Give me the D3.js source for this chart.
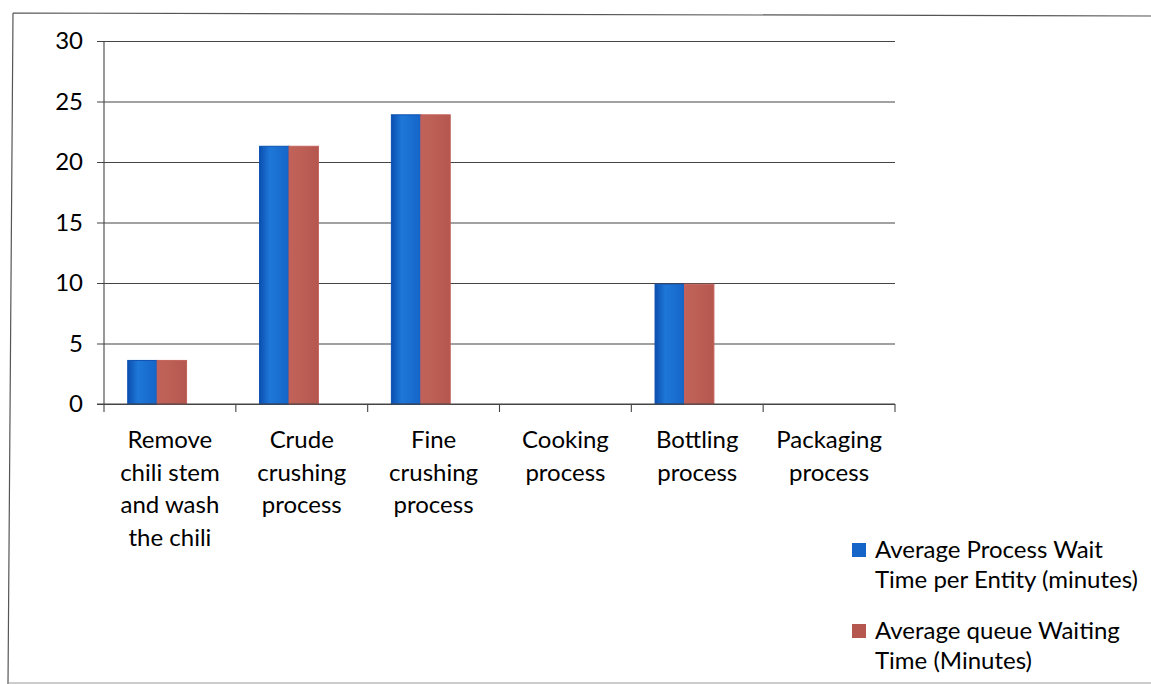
<!DOCTYPE html>
<html>
<head>
<meta charset="utf-8">
<script src="https://cdn.jsdelivr.net/npm/d3@7"></script>
<style>
  html, body { margin: 0; padding: 0; background: #fff; }
  svg { display: block; font-family: Lato, "Open Sans", sans-serif; }
</style>
</head>
<body>
<svg id="chart" width="1151" height="684"></svg>
<script>
// Process stages (line breaks as they wrap under the axis)
const categories = [
  "Remove\nchili stem\nand wash\nthe chili",
  "Crude\ncrushing\nprocess",
  "Fine\ncrushing\nprocess",
  "Cooking\nprocess",
  "Bottling\nprocess",
  "Packaging\nprocess"
];
const seriesNames = [
  "Average Process Wait\nTime per Entity (minutes)",
  "Average queue Waiting\nTime (Minutes)"
];
const processWait = [3.6, 21.3, 23.9, 0, 9.9, 0];
const queueWait   = [3.6, 21.3, 23.9, 0, 9.9, 0];
const yTicks = [0, 5, 10, 15, 20, 25, 30];

const seriesValues = [processWait, queueWait];
const seriesColors = ["#1565c8", "#b5574f"];
const seriesLight  = ["#1e78d8", "#bd6056"];
const seriesEdges  = ["#0b4fb0", "#c2625a"];

const FONT = 24;
const svg = d3.select("#chart");

// Shaded bar fills, darker at the sides
const defs = svg.append("defs");
seriesColors.forEach((c, s) => {
  const g = defs.append("linearGradient").attr("id", "barFill" + s)
    .attr("x1", 0).attr("x2", 1).attr("y1", 0).attr("y2", 0);
  g.append("stop").attr("offset", "0%").attr("stop-color", seriesEdges[s]);
  g.append("stop").attr("offset", "35%").attr("stop-color", seriesLight[s]);
  g.append("stop").attr("offset", "100%").attr("stop-color", c);
});

// Outer frame
svg.append("path")
  .attr("d", "M13,13 L1151,16 M13,13 L8,684")
  .attr("fill", "none").attr("stroke", "#555").attr("stroke-width", 1.2);
svg.append("line")
  .attr("x1", 8).attr("x2", 1151).attr("y1", 683).attr("y2", 683)
  .attr("stroke", "#999").attr("stroke-width", 1);

const plot = { left: 104, right: 895, top: 41, bottom: 404 };

const x0 = d3.scaleBand()
  .domain(d3.range(categories.length))
  .range([plot.left, plot.right])
  .paddingInner(0).paddingOuter(0);

const x1 = d3.scaleBand()
  .domain(d3.range(seriesValues.length))
  .range([0, x0.bandwidth()])
  .paddingInner(0).paddingOuter(1.24).align(0.325);

const y = d3.scaleLinear().domain([0, 30]).range([plot.bottom, plot.top]);

// Gridlines with tick stubs on the left
const yAxis = d3.axisLeft(y).tickValues(yTicks)
  .tickSize(-(plot.right - plot.left)).tickSizeOuter(0).tickPadding(21);
const gy = svg.append("g").attr("transform", `translate(${plot.left},0)`).call(yAxis);
gy.select(".domain").remove();
gy.selectAll(".tick line")
  .attr("x1", -7).attr("stroke", "#444").attr("stroke-width", 1.1);
gy.selectAll(".tick text")
  .attr("font-family", "Lato, sans-serif").attr("font-size", FONT).attr("fill", "#000");

// Vertical axis line
svg.append("line")
  .attr("x1", plot.left).attr("x2", plot.left)
  .attr("y1", y(30)).attr("y2", y(0))
  .attr("stroke", "#444").attr("stroke-width", 1.1);

// Bars
seriesValues.forEach((vals, s) => {
  svg.append("g").selectAll("rect")
    .data(vals)
    .join("rect")
    .attr("x", (d, i) => x0(i) + x1(s))
    .attr("width", x1.bandwidth())
    .attr("y", d => y(d))
    .attr("height", d => y(0) - y(d))
    .attr("fill", `url(#barFill${s})`)
    .attr("stroke", seriesEdges[s]).attr("stroke-width", 1);
});

// Category axis with boundary ticks
const catTicks = d3.range(categories.length + 1).map(i =>
  i < categories.length ? x0(i) : plot.right);
svg.append("g").selectAll("line").data(catTicks).join("line")
  .attr("x1", d => d).attr("x2", d => d)
  .attr("y1", y(0)).attr("y2", y(0) + 8)
  .attr("stroke", "#444").attr("stroke-width", 1.1);
svg.append("line")
  .attr("x1", plot.left - 7).attr("x2", plot.right)
  .attr("y1", y(0)).attr("y2", y(0))
  .attr("stroke", "#444").attr("stroke-width", 1.1);

// Category labels
const labels = svg.append("g").selectAll("text").data(categories).join("text")
  .attr("x", (d, i) => x0(i) + x0.bandwidth() / 2)
  .attr("y", 448)
  .attr("text-anchor", "middle")
  .attr("font-size", FONT).attr("fill", "#000");
labels.each(function(d, i) {
  const t = d3.select(this);
  d.split("\n").forEach((line, k) => {
    t.append("tspan")
      .attr("x", x0(i) + x0.bandwidth() / 2)
      .attr("dy", k === 0 ? 0 : 32.7)
      .text(line);
  });
});

// Legend
const legend = svg.append("g").selectAll("g").data(seriesNames).join("g")
  .attr("transform", (d, i) => `translate(852,${543 + i * 81})`);
legend.append("rect")
  .attr("width", 14).attr("height", 14)
  .attr("fill", (d, i) => seriesColors[i]);
legend.append("text")
  .attr("x", 23).attr("y", 15)
  .attr("font-size", FONT).attr("fill", "#000")
  .each(function(d) {
    const t = d3.select(this);
    d.split("\n").forEach((line, k) => {
      t.append("tspan").attr("x", 23).attr("dy", k === 0 ? 0 : 30).text(line);
    });
  });
</script>
</body>
</html>
